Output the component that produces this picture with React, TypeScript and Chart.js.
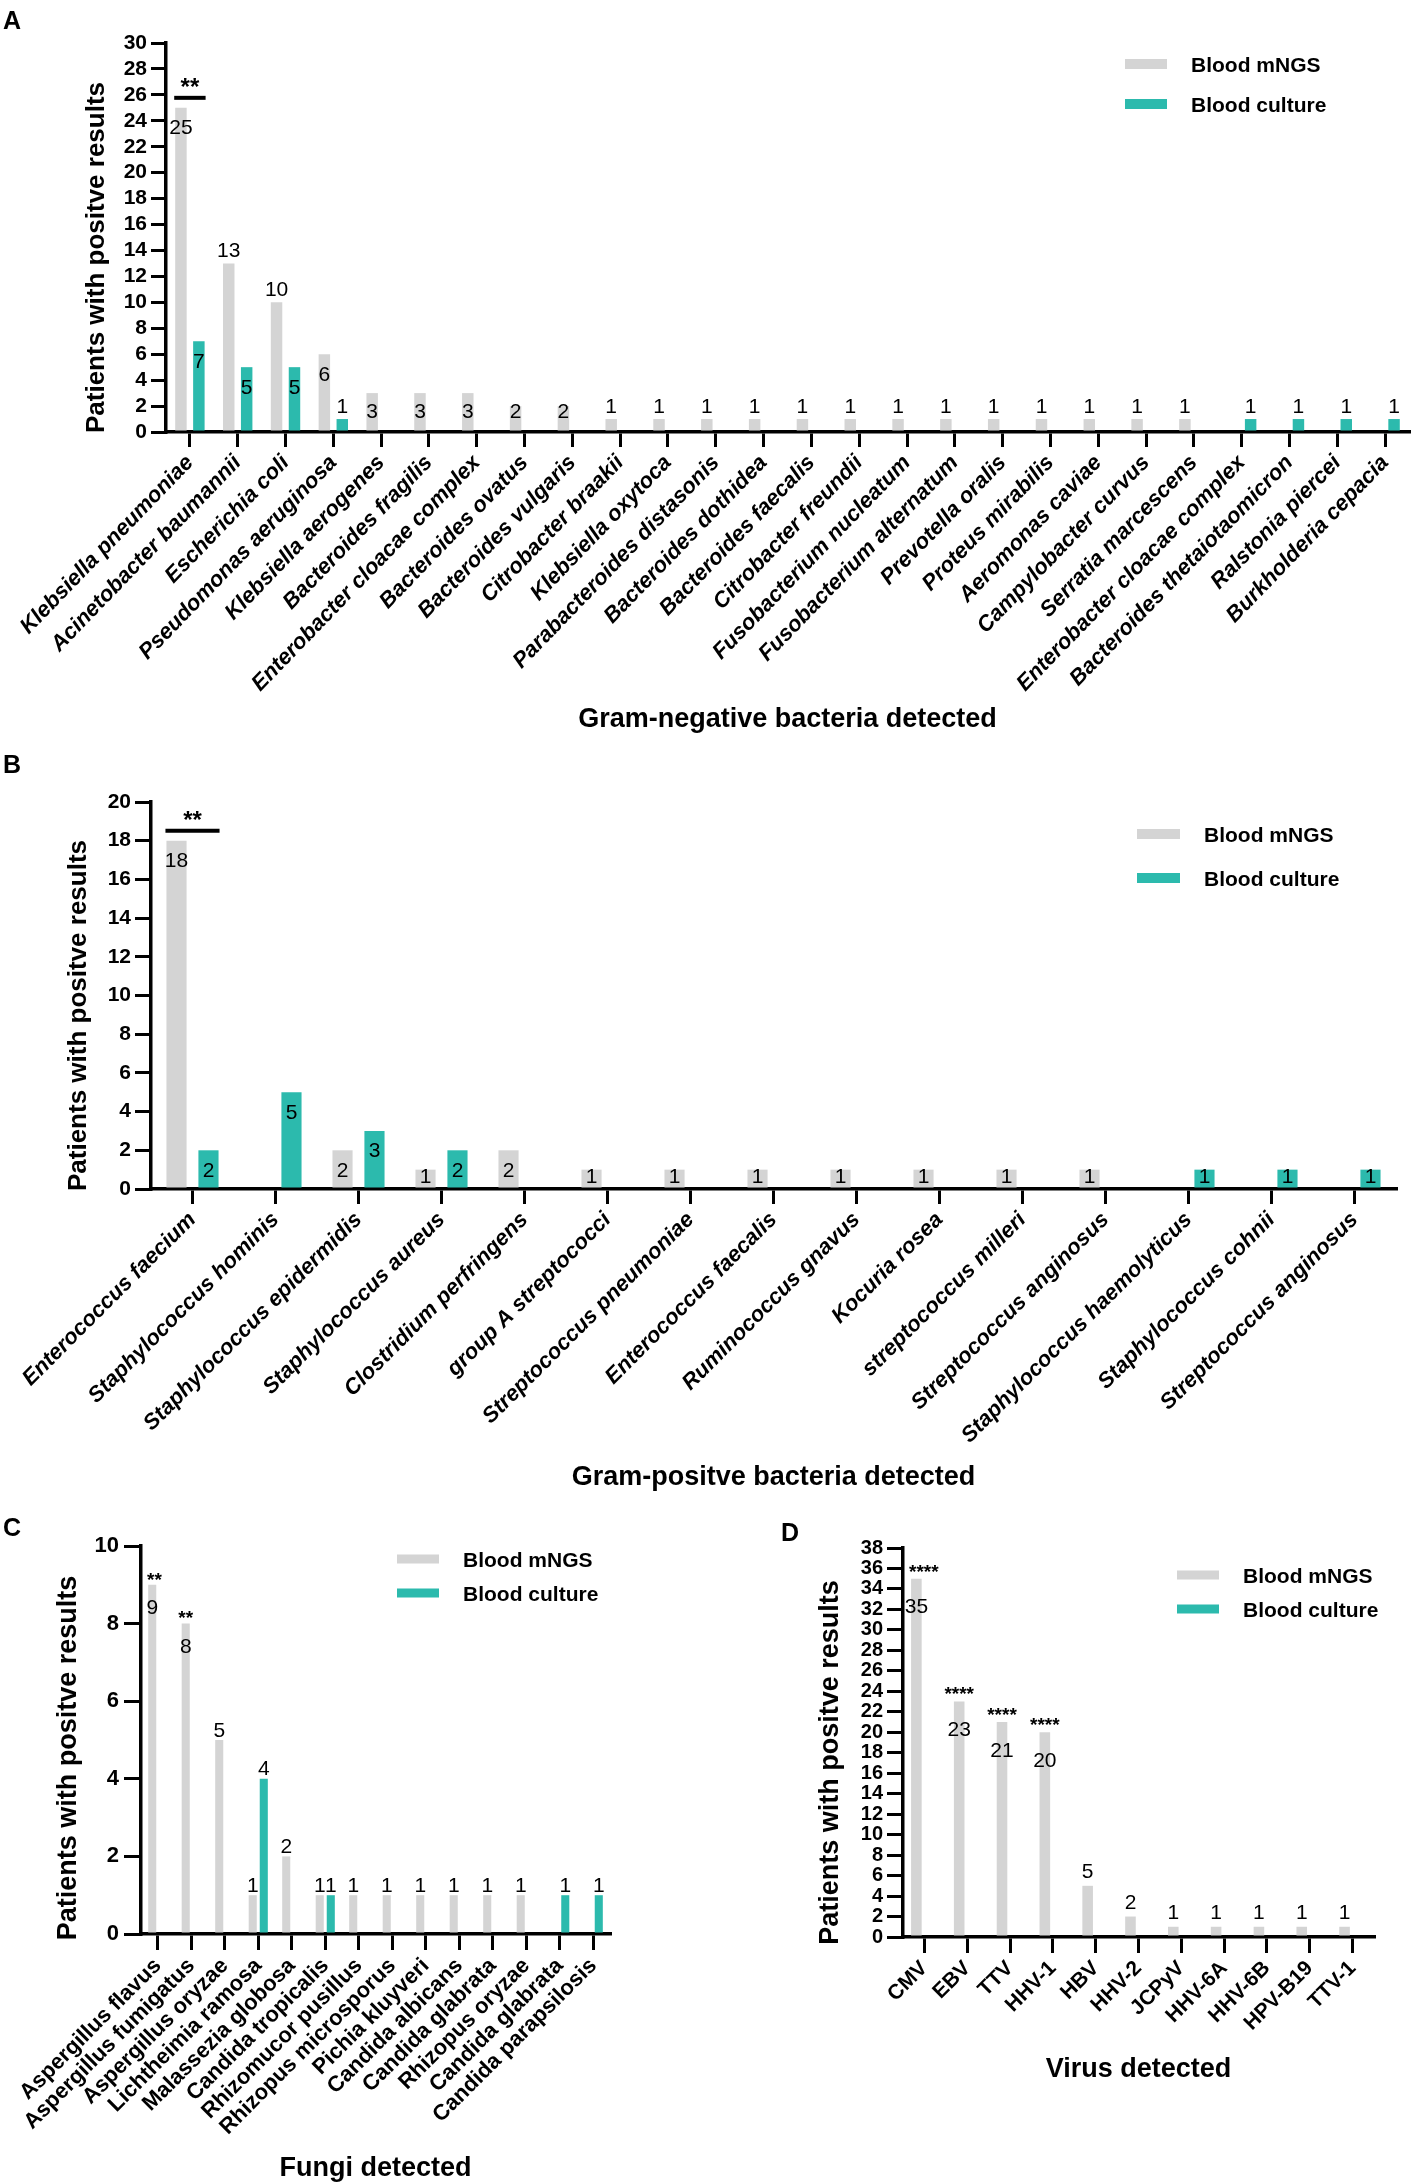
import React, { useEffect, useRef } from 'react';
import { Chart, registerables } from 'chart.js';

Chart.register(...registerables);

const FONT = "'Liberation Sans', Arial, Helvetica, sans-serif";
const GREY = '#d4d4d4';
const TEAL = '#2cbaad';
const SERIES = ['Blood mNGS', 'Blood culture'];

// ---------- Panel A : Gram-negative bacteria ----------
const negCategories = [
  'Klebsiella pneumoniae', 'Acinetobacter baumannii', 'Escherichia coli', 'Pseudomonas aeruginosa',
  'Klebsiella aerogenes', 'Bacteroides fragilis', 'Enterobacter cloacae complex', 'Bacteroides ovatus',
  'Bacteroides vulgaris', 'Citrobacter braakii', 'Klebsiella oxytoca', 'Parabacteroides distasonis',
  'Bacteroides dothidea', 'Bacteroides faecalis', 'Citrobacter freundii', 'Fusobacterium nucleatum',
  'Fusobacterium alternatum', 'Prevotella oralis', 'Proteus mirabilis', 'Aeromonas caviae',
  'Campylobacter curvus', 'Serratia marcescens', 'Enterobacter cloacae complex',
  'Bacteroides thetaiotaomicron', 'Ralstonia piercei', 'Burkholderia cepacia',
];
const negMngs = [25, 13, 10, 6, 3, 3, 3, 2, 2, 1, 1, 1, 1, 1, 1, 1, 1, 1, 1, 1, 1, 1, 0, 0, 0, 0];
const negCulture = [7, 5, 5, 1, 0, 0, 0, 0, 0, 0, 0, 0, 0, 0, 0, 0, 0, 0, 0, 0, 0, 0, 1, 1, 1, 1];
const negMngsInside = [0, 3, 4, 5, 6, 7, 8];
const negCultureInside = [0, 1, 2];
const negBracket = { index: 0, mark: '**' };

// ---------- Panel B : Gram-positive bacteria ----------
const posCategories = [
  'Enterococcus faecium', 'Staphylococcus hominis', 'Staphylococcus epidermidis', 'Staphylococcus aureus',
  'Clostridium perfringens', 'group A streptococci', 'Streptococcus pneumoniae', 'Enterococcus faecalis',
  'Ruminococcus gnavus', 'Kocuria rosea', 'streptococcus milleri', 'Streptococcus anginosus',
  'Staphylococcus haemolyticus', 'Staphylococcus cohnii', 'Streptococcus anginosus',
];
const posMngs = [18, 0, 2, 1, 2, 1, 1, 1, 1, 1, 1, 1, 0, 0, 0];
const posCulture = [2, 5, 3, 2, 0, 0, 0, 0, 0, 0, 0, 0, 1, 1, 1];
const posMngsInside = [0, 2, 3, 4, 5, 6, 7, 8, 9, 10, 11];
const posCultureInside = [0, 1, 2, 3, 12, 13, 14];
const posBracket = { index: 0, mark: '**' };

// ---------- Panel C : Fungi ----------
const fungiCategories = [
  'Aspergillus flavus', 'Aspergillus fumigatus', 'Aspergillus oryzae', 'Lichtheimia ramosa',
  'Malassezia globosa', 'Candida tropicalis', 'Rhizomucor pusillus', 'Rhizopus microsporus',
  'Pichia kluyveri', 'Candida albicans', 'Candida glabrata', 'Rhizopus oryzae',
  'Candida glabrata', 'Candida parapsilosis',
];
const fungiMngs = [9, 8, 5, 1, 2, 1, 1, 1, 1, 1, 1, 1, 0, 0];
const fungiCulture = [0, 0, 0, 4, 0, 1, 0, 0, 0, 0, 0, 0, 1, 1];
const fungiMngsInside = [0, 1];
const fungiCultureInside: number[] = [];
const fungiStars = ['**', '**', '', '', '', '', '', '', '', '', '', '', '', ''];

// ---------- Panel D : Virus ----------
const virusCategories = ['CMV', 'EBV', 'TTV', 'HHV-1', 'HBV', 'HHV-2', 'JCPyV', 'HHV-6A', 'HHV-6B', 'HPV-B19', 'TTV-1'];
const virusMngs = [35, 23, 21, 20, 5, 2, 1, 1, 1, 1, 1];
const virusCulture = [0, 0, 0, 0, 0, 0, 0, 0, 0, 0, 0];
const virusMngsInside = [0, 1, 2, 3];
const virusCultureInside: number[] = [];
const virusStars = ['****', '****', '****', '****', '', '', '', '', '', '', ''];

type Panel = {
  x: number; y: number; w: number; h: number;
  area: { left: number; top: number; right: number; bottom: number };
  categories: string[]; mngs: number[]; culture: number[];
  inside: number[][];
  yMax: number; yStep: number;
  yTickSize: number; yTickLen: number; yTickPad: number;
  xTickLen: number; xLabelSize: number; italic: boolean; rotation: number; xLabelPad: number;
  xTitle: string; xTitleSize: number; xTitleY: number;
  yTitleSize: number; yTitleX: number; yTitleShift: number;
  letter: string; letterX: number; letterY: number;
  legend: { swatchX: number; swatchW: number; swatchH: number; rows: number[]; textX: number; size: number };
  catPct: number; barPct: number;
  valueSize: number; inOffset: number; upOffset: number; clamp: number;
  stars?: string[]; starSize?: number; starOffset?: number;
  bracket?: { index: number; mark: string };
};

const panelA: Panel = {
  x: 0, y: 0, w: 1415, h: 752,
  area: { left: 166, top: 43, right: 1409, bottom: 432 },
  categories: negCategories, mngs: negMngs, culture: negCulture, inside: [negMngsInside, negCultureInside],
  yMax: 30, yStep: 2, yTickSize: 21, yTickLen: 15, yTickPad: 4,
  xTickLen: 15, xLabelSize: 22, italic: true, rotation: 46, xLabelPad: 3,
  xTitle: 'Gram-negative bacteria detected', xTitleSize: 27, xTitleY: 720,
  yTitleSize: 26, yTitleX: 97, yTitleShift: 20,
  letter: 'A', letterX: 3, letterY: 29,
  legend: { swatchX: 1125, swatchW: 42, swatchH: 10, rows: [64, 104], textX: 1191, size: 21 },
  catPct: 0.75, barPct: 0.64,
  valueSize: 21, inOffset: 19, upOffset: 14, clamp: 20,
  bracket: negBracket,
};

const panelB: Panel = {
  x: 0, y: 752, w: 1415, h: 763,
  area: { left: 151, top: 50, right: 1396, bottom: 437 },
  categories: posCategories, mngs: posMngs, culture: posCulture, inside: [posMngsInside, posCultureInside],
  yMax: 20, yStep: 2, yTickSize: 21, yTickLen: 16, yTickPad: 4,
  xTickLen: 15, xLabelSize: 22, italic: true, rotation: 45, xLabelPad: 3,
  xTitle: 'Gram-positve bacteria detected', xTitleSize: 27, xTitleY: 726,
  yTitleSize: 26, yTitleX: 79, yTitleShift: 20,
  letter: 'B', letterX: 3, letterY: 21,
  legend: { swatchX: 1137, swatchW: 43, swatchH: 10, rows: [82, 126], textX: 1204, size: 21 },
  catPct: 0.77, barPct: 0.63,
  valueSize: 21, inOffset: 19, upOffset: 14, clamp: 12,
  bracket: posBracket,
};

const panelC: Panel = {
  x: 0, y: 1515, w: 700, h: 668,
  area: { left: 141, top: 31, right: 610, bottom: 419 },
  categories: fungiCategories, mngs: fungiMngs, culture: fungiCulture, inside: [fungiMngsInside, fungiCultureInside],
  yMax: 10, yStep: 2, yTickSize: 22, yTickLen: 17, yTickPad: 5,
  xTickLen: 16, xLabelSize: 22, italic: false, rotation: 45, xLabelPad: 3,
  xTitle: 'Fungi detected', xTitleSize: 27, xTitleY: 654,
  yTitleSize: 27, yTitleX: 69, yTitleShift: 18,
  letter: 'C', letterX: 3, letterY: 21,
  legend: { swatchX: 397, swatchW: 42, swatchH: 9, rows: [44, 78], textX: 463, size: 21 },
  catPct: 0.66, barPct: 0.73,
  valueSize: 21, inOffset: 22, upOffset: 11, clamp: 12,
  stars: fungiStars, starSize: 19, starOffset: 9,
};

const panelD: Panel = {
  x: 700, y: 1515, w: 715, h: 668,
  area: { left: 203, top: 33, right: 674, bottom: 422 },
  categories: virusCategories, mngs: virusMngs, culture: virusCulture, inside: [virusMngsInside, virusCultureInside],
  yMax: 38, yStep: 2, yTickSize: 20, yTickLen: 16, yTickPad: 4,
  xTickLen: 16, xLabelSize: 21, italic: false, rotation: 45, xLabelPad: 3,
  xTitle: 'Virus detected', xTitleSize: 27, xTitleY: 555,
  yTitleSize: 27, yTitleX: 131, yTitleShift: 20,
  letter: 'D', letterX: 81, letterY: 26,
  legend: { swatchX: 477, swatchW: 42, swatchH: 9, rows: [60, 94], textX: 543, size: 21 },
  catPct: 0.75, barPct: 0.66,
  valueSize: 21, inOffset: 27, upOffset: 15, clamp: 12,
  stars: virusStars, starSize: 19, starOffset: 11,
};

function annotPlugin(p: Panel) {
  return {
    id: 'annot' + p.letter,
    afterDatasetsDraw(chart: any) {
      const ctx: CanvasRenderingContext2D = chart.ctx;
      const area = chart.chartArea;
      ctx.save();
      ctx.fillStyle = '#000';
      ctx.textAlign = 'center';
      ctx.textBaseline = 'alphabetic';
      // value labels
      [0, 1].forEach((di) => {
        const meta = chart.getDatasetMeta(di);
        const vals = chart.data.datasets[di].data as number[];
        meta.data.forEach((el: any, i: number) => {
          const v = vals[i];
          if (!v) return;
          const { x, y, base } = el.getProps(['x', 'y', 'base'], true);
          const isIn = p.inside[di].includes(i);
          const cy = isIn ? Math.min(y + p.inOffset, base - p.clamp) : y - p.upOffset;
          ctx.font = `${p.valueSize}px ${FONT}`;
          ctx.fillText(String(v), x, cy + 0.358 * p.valueSize);
        });
      });
      // stars above single bars
      if (p.stars) {
        const meta = chart.getDatasetMeta(0);
        meta.data.forEach((el: any, i: number) => {
          const s = p.stars![i];
          if (!s) return;
          const { x, y } = el.getProps(['x', 'y'], true);
          const size = p.starSize || 19;
          ctx.font = `bold ${size}px ${FONT}`;
          const half = ctx.measureText(s).width / 2;
          const sx = Math.max(x, area.left + half + 6);
          ctx.fillText(s, sx, y - (p.starOffset || 10) + 0.52 * size);
        });
      }
      // significance bracket
      if (p.bracket) {
        const g = chart.getDatasetMeta(0).data[p.bracket.index].getProps(['x', 'y', 'width'], true);
        const t = chart.getDatasetMeta(1).data[p.bracket.index].getProps(['x', 'y', 'width'], true);
        const x1 = g.x - g.width / 2 - 1;
        const x2 = t.x + t.width / 2 + 1;
        const ly = g.y - 10;
        ctx.lineWidth = 4;
        ctx.strokeStyle = '#000';
        ctx.beginPath();
        ctx.moveTo(x1, ly);
        ctx.lineTo(x2, ly);
        ctx.stroke();
        ctx.font = `bold 24px ${FONT}`;
        ctx.fillText(p.bracket.mark, (x1 + x2) / 2, ly - 15 + 0.52 * 24);
      }
      ctx.restore();
    },
    afterDraw(chart: any) {
      const ctx: CanvasRenderingContext2D = chart.ctx;
      const area = chart.chartArea;
      ctx.save();
      ctx.fillStyle = '#000';
      // panel letter
      ctx.font = `bold 25px ${FONT}`;
      ctx.textAlign = 'left';
      ctx.textBaseline = 'alphabetic';
      ctx.fillText(p.letter, p.letterX, p.letterY);
      // legend
      const L = p.legend;
      const colors = [GREY, TEAL];
      SERIES.forEach((name, i) => {
        const ry = L.rows[i];
        ctx.fillStyle = colors[i];
        ctx.fillRect(L.swatchX, ry - L.swatchH / 2, L.swatchW, L.swatchH);
        ctx.fillStyle = '#000';
        ctx.font = `bold ${L.size}px ${FONT}`;
        ctx.textAlign = 'left';
        ctx.fillText(name, L.textX, ry + 0.358 * L.size);
      });
      // y axis title
      ctx.translate(p.yTitleX, (area.top + area.bottom) / 2 + p.yTitleShift);
      ctx.rotate(-Math.PI / 2);
      ctx.font = `bold ${p.yTitleSize}px ${FONT}`;
      ctx.textAlign = 'center';
      ctx.textBaseline = 'middle';
      ctx.fillText('Patients with positve results', 0, 0);
      ctx.restore();
    },
  };
}

function buildConfig(p: Panel): any {
  const tLH = p.xTitleSize * 1.2;
  return {
    type: 'bar',
    data: {
      labels: p.categories,
      datasets: [
        { label: SERIES[0], data: p.mngs, backgroundColor: GREY, borderWidth: 0, categoryPercentage: p.catPct, barPercentage: p.barPct },
        { label: SERIES[1], data: p.culture, backgroundColor: TEAL, borderWidth: 0, categoryPercentage: p.catPct, barPercentage: p.barPct },
      ],
    },
    options: {
      responsive: false,
      maintainAspectRatio: false,
      animation: false,
      devicePixelRatio: 1,
      events: [],
      layout: { padding: { left: 0, top: p.area.top, right: p.w - p.area.right, bottom: 0 } },
      plugins: { legend: { display: false }, tooltip: { enabled: false }, title: { display: false } },
      scales: {
        x: {
          type: 'category',
          offset: true,
          grid: { display: true, drawOnChartArea: false, drawTicks: true, offset: false, tickLength: p.xTickLen, tickWidth: 3, tickColor: '#000', lineWidth: 3, color: '#000' },
          border: { display: true, color: '#000', width: 3.5 },
          ticks: {
            autoSkip: false, minRotation: p.rotation, maxRotation: p.rotation, color: '#000', padding: p.xLabelPad,
            font: { family: FONT, size: p.xLabelSize, weight: 'bold', style: p.italic ? 'italic' : 'normal' },
          },
          title: {
            display: true, text: p.xTitle, color: '#000',
            font: { family: FONT, size: p.xTitleSize, weight: 'bold' },
            padding: { top: 0, bottom: p.h - p.xTitleY - tLH / 2 },
          },
          afterFit: (s: any) => { s.height = p.h - p.area.bottom; },
        },
        y: {
          type: 'linear',
          min: 0, max: p.yMax,
          grid: { display: true, drawOnChartArea: false, drawTicks: true, tickLength: p.yTickLen, tickWidth: 3, tickColor: '#000', lineWidth: 3, color: '#000' },
          border: { display: true, color: '#000', width: 3.5 },
          ticks: {
            stepSize: p.yStep, autoSkip: false, maxTicksLimit: 100, color: '#000', padding: p.yTickPad,
            font: { family: FONT, size: p.yTickSize, weight: 'bold' },
          },
          title: { display: false },
          afterFit: (s: any) => { s.width = p.area.left; },
        },
      },
    },
    plugins: [annotPlugin(p)],
  };
}

function PanelChart({ p }: { p: Panel }) {
  const ref = useRef<HTMLCanvasElement>(null);
  useEffect(() => {
    const canvas = ref.current;
    if (!canvas) return;
    const chart = new Chart(canvas, buildConfig(p));
    return () => chart.destroy();
  }, [p]);
  return (
    <canvas
      ref={ref}
      width={p.w}
      height={p.h}
      style={{ position: 'absolute', left: p.x, top: p.y, width: p.w, height: p.h, display: 'block' }}
    />
  );
}

export default function App() {
  useEffect(() => {
    document.body.style.margin = '0';
    document.body.style.background = '#fff';
  }, []);
  return (
    <div style={{ position: 'absolute', left: 0, top: 0, width: 1415, height: 2183, background: '#fff', overflow: 'hidden' }}>
      <PanelChart p={panelA} />
      <PanelChart p={panelB} />
      <PanelChart p={panelC} />
      <PanelChart p={panelD} />
    </div>
  );
}
